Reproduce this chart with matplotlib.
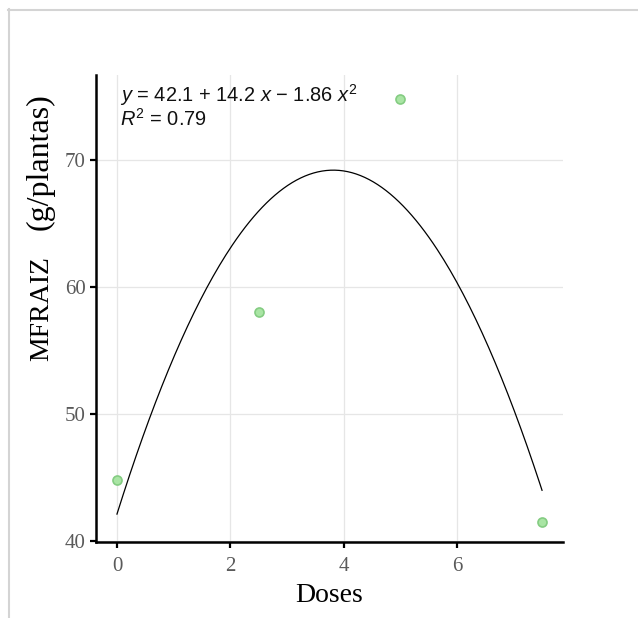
import matplotlib
matplotlib.use("Agg")
import matplotlib.pyplot as plt
import numpy as np
from matplotlib.lines import Line2D

plt.rcParams["font.family"] = "Liberation Serif"
plt.rcParams["mathtext.fontset"] = "custom"
plt.rcParams["mathtext.rm"] = "Liberation Sans"
plt.rcParams["mathtext.it"] = "Liberation Sans:italic"

# observed means
doses = [0, 2.5, 5, 7.5]
mfraiz = [44.8, 58.0, 74.8, 41.5]

# fitted quadratic
coef = [42.1, 14.2, -1.86]
r2 = 0.79

xticks = [0, 2, 4, 6]
yticks = [40, 50, 60, 70]

W, H = 638, 618
fig = plt.figure(figsize=(W / 100, H / 100), dpi=100)
ax = fig.add_axes([96 / W, 1 - 542 / H, (563 - 96) / W, (542 - 75) / H])

# light screenshot frame
fig.add_artist(Line2D([8.5 / W, 8.5 / W], [0, 1 - 9 / H], transform=fig.transFigure,
                      color="#d4d4d4", lw=1.5))
fig.add_artist(Line2D([8 / W, 1], [1 - 9.5 / H, 1 - 9.5 / H], transform=fig.transFigure,
                      color="#d4d4d4", lw=1.5))

xs = np.linspace(min(doses), max(doses), 200)
ys = coef[0] + coef[1] * xs + coef[2] * xs ** 2
ax.plot(xs, ys, color="black", lw=0.9, zorder=3)
ax.plot(doses, mfraiz, "o", ms=6.5, mfc="#a9e5a4", mec="#84cc82", mew=1.2, zorder=4)

ax.set_xlim(-0.37, 7.87)
ax.set_ylim(39.9, 76.7)
ax.set_xticks(xticks)
ax.set_yticks(yticks)
ax.grid(True, color="#e6e6e6", lw=0.9)
ax.set_axisbelow(True)

for s in ["top", "right"]:
    ax.spines[s].set_visible(False)
for s in ["left", "bottom"]:
    ax.spines[s].set_linewidth(1.8)
    ax.spines[s].set_color("black")
ax.tick_params(length=4.5, width=1.6, color="black", labelcolor="#5a5a5a",
               labelsize=15, pad=3)
ax.tick_params(axis="x", pad=6)

ax.set_xlabel("Doses", fontsize=20, color="black", labelpad=5)

# y label drawn in two pieces, the unit part sits higher and larger
ax.text(-0.103, 0.5, "MFRAIZ", transform=ax.transAxes, rotation=90,
        rotation_mode="anchor", ha="center", va="baseline", fontsize=20)
ax.text(-0.103, 0.815, "(g/plantas)", transform=ax.transAxes, rotation=90,
        rotation_mode="anchor", ha="center", va="baseline", fontsize=23)

ax.text(0.051, 0.985,
        "$y$ = %.1f + %.1f $x$ \u2212 %.2f $x^2$\n$R^2$ = %.2f" % (coef[0], coef[1], -coef[2], r2),
        transform=ax.transAxes, ha="left", va="top", fontsize=14.4,
        family="Liberation Sans", color="#111111", linespacing=1.0)

fig.savefig("out.png", dpi=100)
